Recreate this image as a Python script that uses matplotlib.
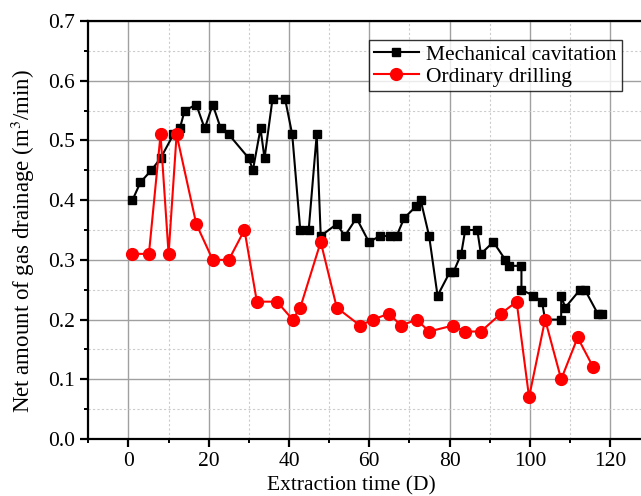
import matplotlib
matplotlib.use("Agg")
import matplotlib.pyplot as plt
from matplotlib.ticker import MultipleLocator

plt.rcParams['font.family'] = ['Liberation Serif', 'DejaVu Serif']
plt.rcParams['mathtext.fontset'] = 'stix'

# Mechanical cavitation
mc_x = [1, 3, 5.7, 8, 11.2, 12.8, 14, 16.9, 19, 21, 23, 25, 30, 31, 32.9, 33.9,
        35.9, 39, 40.8, 42.8, 44.9, 46.9, 47.9, 51.9, 53.9, 56.8, 59.9, 62.7,
        65.2, 66.8, 68.7, 71.7, 72.8, 74.9, 77, 80.1, 81, 82.9, 83.9, 86.9,
        87.8, 90.9, 93.9, 94.9, 97.9, 97.9, 100.9, 103, 103.8, 107.8, 107.8,
        108.8, 112.5, 113.7, 116.9, 117.9]
mc_y = [0.40, 0.43, 0.45, 0.47, 0.51, 0.52, 0.55, 0.56, 0.52, 0.56, 0.52, 0.51,
        0.47, 0.45, 0.52, 0.47, 0.57, 0.57, 0.51, 0.35, 0.35, 0.51, 0.34, 0.36,
        0.34, 0.37, 0.33, 0.34, 0.34, 0.34, 0.37, 0.39, 0.40, 0.34, 0.24, 0.28,
        0.28, 0.31, 0.35, 0.35, 0.31, 0.33, 0.30, 0.29, 0.29, 0.25, 0.24, 0.23,
        0.20, 0.20, 0.24, 0.22, 0.25, 0.25, 0.21, 0.21]

# Ordinary drilling
od_x = [1, 5.1, 8, 10, 12, 16.9, 21, 25, 28.9, 32, 37, 40.9, 42.8, 47.9, 51.9,
        57.7, 60.9, 64.9, 67.9, 71.8, 74.9, 80.8, 83.9, 87.8, 92.8, 96.7, 99.8,
        103.8, 107.8, 111.9, 115.8]
od_y = [0.31, 0.31, 0.51, 0.31, 0.51, 0.36, 0.30, 0.30, 0.35, 0.23, 0.23, 0.20,
        0.22, 0.33, 0.22, 0.19, 0.20, 0.21, 0.19, 0.20, 0.18, 0.19, 0.18, 0.18,
        0.21, 0.23, 0.07, 0.20, 0.10, 0.17, 0.12]

fig = plt.figure(figsize=(6.41, 4.96), dpi=100)
ax = fig.add_axes([88.3/641, 57/496, 562/641, 418/496])

ax.plot(mc_x, mc_y, '-s', color='black', lw=1.5, ms=6.3, label='Mechanical cavitation', zorder=3)
ax.plot(od_x, od_y, '-o', color='red', lw=1.5, ms=8.5, label='Ordinary drilling', zorder=4)

ax.set_xlim(-10, 130)
ax.set_ylim(0, 0.7)
ax.xaxis.set_major_locator(MultipleLocator(20))
ax.xaxis.set_minor_locator(MultipleLocator(10))
ax.yaxis.set_major_locator(MultipleLocator(0.1))
ax.yaxis.set_minor_locator(MultipleLocator(0.05))
ax.yaxis.set_major_formatter(plt.FuncFormatter(lambda v, p: f"{v:.1f}"))

ax.grid(which='major', color='#a0a0a0', lw=1.0, ls='-', zorder=0)
ax.grid(which='minor', color='#cccccc', lw=0.8, ls=(0, (2, 2)), zorder=0)
ax.set_axisbelow(True)

for s in ax.spines.values():
    s.set_linewidth(1.6)
ax.tick_params(which='major', direction='out', length=6, width=1.6, labelsize=15.5)
ax.tick_params(which='minor', direction='out', length=3, width=1.4)

ax.set_xlabel('Extraction time (D)', fontsize=15.5)
ax.set_ylabel('Net amount of gas drainage (m$^3$/min)', fontsize=16.5)
ax.xaxis.set_label_coords(0.468, -0.088)
ax.yaxis.set_label_coords(-0.092, 0.474)

leg = ax.legend(loc='upper left', bbox_to_anchor=(0.4995, 0.9545),
                fontsize=15.5, frameon=True, fancybox=False, edgecolor='black',
                handlelength=2.1, borderpad=0.22, labelspacing=0.08, handletextpad=0.35,
                borderaxespad=0)
leg.get_frame().set_linewidth(1.0)

fig.savefig('out.png', dpi=100)
